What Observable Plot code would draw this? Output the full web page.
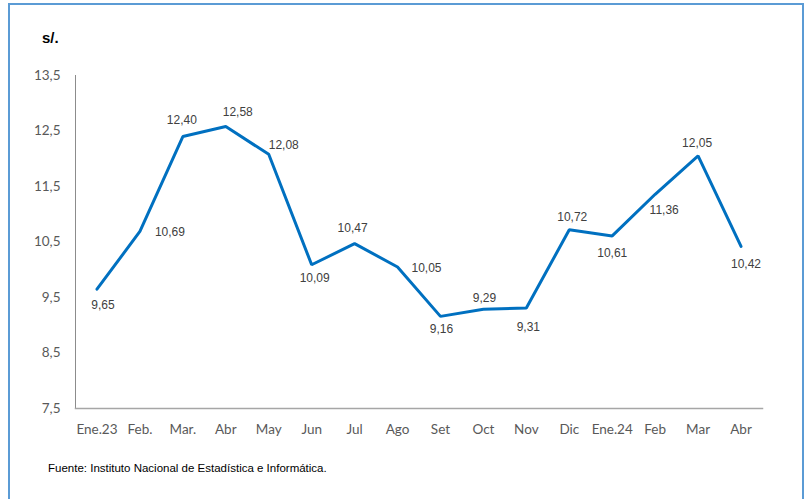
<!DOCTYPE html>
<html>
<head>
<meta charset="utf-8">
<script src="https://cdn.jsdelivr.net/npm/d3@7"></script>
<script src="https://cdn.jsdelivr.net/npm/@observablehq/plot@0.6"></script>
<style>
  html, body { margin: 0; padding: 0; background: #fff; overflow: hidden; }
  #wrap { position: relative; width: 808px; height: 499px; overflow: hidden; }
  #border { position: absolute; left: 8px; top: 3px; width: 796px; height: 520px; border: 2px solid #5B9BD5; box-sizing: border-box; }
  #unit { position: absolute; left: 42px; top: 29px; font: bold 15px "Liberation Sans", Arial, sans-serif; color: #000; }
  #source { position: absolute; left: 48px; top: 462px; font: 11.5px "Liberation Sans", Arial, sans-serif; color: #000; }
  #chart { position: absolute; left: 0; top: 0; }
</style>
</head>
<body>
<div id="wrap">
  <div id="border"></div>
  <div id="chart"></div>
  <div id="unit">s/.</div>
  <div id="source">Fuente: Instituto Nacional de Estadística e Informática.</div>
</div>
<script>
const months = ["Ene.23","Feb.","Mar.","Abr","May","Jun","Jul","Ago","Set","Oct","Nov","Dic","Ene.24","Feb","Mar","Abr "];
const values = [9.65,10.69,12.40,12.58,12.08,10.09,10.47,10.05,9.16,9.29,9.31,10.72,10.61,11.36,12.05,10.42];
const yTicks = [7.5,8.5,9.5,10.5,11.5,12.5,13.5];

// label placement offsets (styling)
const labelOffsets = [[6,16],[30,1],[-1,-16],[12,-14],[15,-9],[3,13],[-2,-16],[29,1],[1,13],[1,-11],[2,19],[3,-13],[0,17],[9,16],[-1,-13],[5,18]];

const data = months.map((m, i) => ({month: m, value: values[i]}));
const fmt = d => d.toFixed(2).replace(".", ",");

const labelMarks = data.map((d, i) => Plot.text([d], {
  x: "month", y: "value", text: r => fmt(r.value),
  dx: labelOffsets[i][0], dy: labelOffsets[i][1],
  fill: "#404040", fontSize: 12, fontFamily: "Liberation Sans, Arial, sans-serif"
}));

const chart = Plot.plot({
  width: 808,
  height: 450,
  marginLeft: 75,
  marginRight: 46,
  marginTop: 75,
  marginBottom: 42,
  style: {background: "transparent", fontFamily: "Lato, sans-serif"},
  x: {type: "point", domain: months, padding: 0.5, round: false, label: null},
  y: {domain: [7.5, 13.5], label: null},
  marks: [
    Plot.frame({anchor: "left", stroke: "#8c8c8c", strokeWidth: 1}),
    Plot.frame({anchor: "bottom", stroke: "#a6a6a6", strokeWidth: 1.5}),
    Plot.axisY({ticks: yTicks, tickFormat: d => d.toFixed(1).replace(".", ","), tickSize: 0, tickPadding: 15, fontSize: 13.5, fill: "#595959", label: null}),
    Plot.axisX({tickSize: 0, tickPadding: 16, fontSize: 13.5, fill: "#595959", label: null, tickFormat: d => d.trim()}),
    Plot.line(data, {x: "month", y: "value", stroke: "#0070C0", strokeWidth: 3, strokeLinejoin: "miter"}),
    ...labelMarks
  ]
});
document.getElementById("chart").appendChild(chart);
</script>
</body>
</html>
